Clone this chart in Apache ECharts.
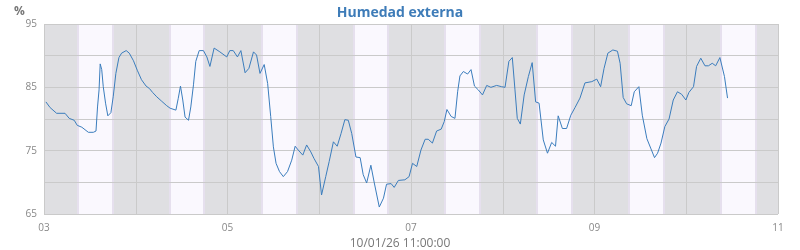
<!DOCTYPE html>
<html>
<head>
<meta charset="utf-8">
<script src="https://cdn.jsdelivr.net/npm/echarts@6/dist/echarts.min.js"></script>
<style>
html,body{margin:0;padding:0;background:#fff;}
#chart{width:800px;height:250px;}
</style>
</head>
<body>
<div id="chart"></div>
<script>
// Hours since 2026-01-03 00:00
const hours = [0.5,1.6,3.3,5.5,6.6,7.9,8.7,9.9,11.6,12.9,13.6,14,14.4,14.7,15.1,15.5,16.1,16.7,17.5,18.1,18.8,19.6,20.3,21.5,22.3,23.4,24.4,25.5,26.7,27.6,28.4,29.5,30.8,32.1,33,34.5,35.1,35.7,36.3,36.9,37.8,38.4,39.1,39.7,40.6,41.7,42.6,43.4,44.5,46,47.8,48.6,49.5,50.6,51.5,52.6,53.6,54.8,55.6,56.5,57.6,58.5,59.3,60,60.7,61.6,62.6,63.7,64.8,65.7,66.5,67.7,68.7,69.8,70.6,71.8,72.6,73.7,74.6,75.7,76.7,77.7,78.7,79.6,80.5,81.6,82.7,83.5,84.4,85.5,86.4,87.7,88.8,89.6,90.8,91.6,92.7,94.4,95.5,96.4,97.5,98.6,99.7,100.5,101.6,102.7,103.9,104.7,105.4,106.5,107.5,108.2,108.8,109.7,110.8,111.7,112.6,113.6,114.7,115.8,116.9,118.4,119.7,120.6,121.6,122.5,123.2,123.8,124.6,125.6,126.7,127.7,128.6,129.5,130.6,131.7,132.8,133.8,134.5,135.6,136.7,137.8,138.9,140.2,141.5,143.3,144.6,145.6,146.5,147.5,148.8,150,150.7,151.5,152.4,153.6,154.4,155.6,156.5,157.7,158.7,159.7,160.5,161.4,162.4,163.5,164.6,165.7,166.8,167.9,168.7,169.9,170.7,171.8,172.9,173.8,174.8,175.7,176.8,178,178.8];
const humidity = [82.7,81.8,80.9,80.9,80.1,79.8,79.0,78.7,77.9,77.9,78.1,81.9,84.6,88.7,87.8,85.1,82.5,80.5,81.0,83.5,87.2,89.7,90.4,90.8,90.4,89.2,87.7,86.2,85.2,84.8,84.2,83.5,82.8,82.1,81.7,81.4,83.2,85.2,83.0,80.3,79.8,81.9,85.4,89.1,90.8,90.8,89.8,88.3,91.2,90.6,89.8,90.8,90.8,89.8,90.8,87.3,88.0,90.6,90.1,87.2,88.6,85.6,80.4,75.6,73.0,71.7,70.9,71.7,73.5,75.7,75.1,74.3,75.9,74.8,73.8,72.5,68.0,70.9,73.3,76.4,75.7,77.7,79.9,79.8,77.7,74.0,73.9,71.2,69.9,72.7,69.9,66.1,67.5,69.7,69.8,69.2,70.3,70.4,70.9,73.0,72.5,75.1,76.8,76.8,76.2,78.1,78.4,79.6,81.5,80.4,80.1,84.3,86.8,87.5,87.1,87.8,85.2,84.6,83.8,85.3,85.0,85.3,85.1,85.0,89.1,89.7,84.6,80.1,79.2,83.8,86.7,88.9,82.7,82.5,76.7,74.6,76.3,75.7,80.5,78.5,78.5,80.6,81.8,83.3,85.7,85.9,86.3,85.1,88.0,90.4,90.9,90.7,88.8,83.4,82.4,82.1,84.3,85.1,80.6,76.9,75.4,73.9,74.6,76.2,78.8,80.0,83.0,84.3,83.9,83.0,84.2,85.1,88.3,89.6,88.4,88.4,88.8,88.4,89.7,86.7,83.3];
// daylight bands (hours since start)
const sunrise = [8.8,32.9,56.9,80.9,104.9,128.9,153.0,177.0];
const sunset  = [18.0,41.9,66.1,89.9,113.9,138.0,162.2,186.2];
const yLabels = [65,75,85,95];

const chart = echarts.init(document.getElementById('chart'));
const FONT = "'Open Sans', 'Noto Sans', sans-serif";
const bandAreas = sunrise.map((s,i)=>[{xAxis:s},{xAxis:sunset[i]}]);
const bandEdges = [];
sunrise.forEach((s,i)=>{ bandEdges.push({xAxis:s}); bandEdges.push({xAxis:sunset[i]}); });

chart.setOption({
  animation:false,
  textStyle:{fontFamily:FONT},
  title:[
    {text:'Humedad externa', left:'center', top:1, textStyle:{fontFamily:FONT, fontSize:14, fontWeight:'bold', color:'#3e7cb8'}},
    {text:'%', left:9, top:1, textStyle:{fontFamily:FONT, fontSize:12, fontWeight:'bold', color:'#777'}},
    {text:'10/01/26 11:00:00', left:'center', top:233, textStyle:{fontFamily:FONT, fontSize:12, fontWeight:'normal', color:'#777'}}
  ],
  grid:{left:44, right:22, top:24, bottom:36, show:true, backgroundColor:'#dfdfe2', borderWidth:0},
  xAxis:{
    type:'value', min:0, max:192, interval:24, z:2,
    axisLine:{show:false}, axisTick:{show:false},
    axisLabel:{color:'#888', fontSize:10, margin:9, fontFamily:FONT,
      formatter:v=>{const d=3+Math.round(v/24); return d%2? String(d).padStart(2,'0'):'';}},
    splitLine:{show:true, lineStyle:{color:'#cacaca', width:1}}
  },
  yAxis:{
    type:'value', min:65, max:95, interval:5, z:2,
    axisLine:{show:false}, axisTick:{show:false},
    axisLabel:{color:'#888', fontSize:10, margin:7, fontFamily:FONT,
      formatter:v=> yLabels.indexOf(v)>=0 ? String(v) : ''},
    splitLine:{show:true, lineStyle:{color:'#cacaca', width:1}}
  },
  series:[{
    type:'line', z:3, symbol:'none', smooth:false,
    lineStyle:{color:'#3b7dbd', width:1},
    data:hours.map((h,i)=>[h,humidity[i]]),
    markArea:{silent:true, z:1, itemStyle:{color:'#faf8fe'}, data:bandAreas},
    markLine:{silent:true, z:1, symbol:['none','none'], label:{show:false},
      lineStyle:{type:'solid', color:'#e6e0ee', width:2}, data:bandEdges}
  }]
});
</script>
</body>
</html>
